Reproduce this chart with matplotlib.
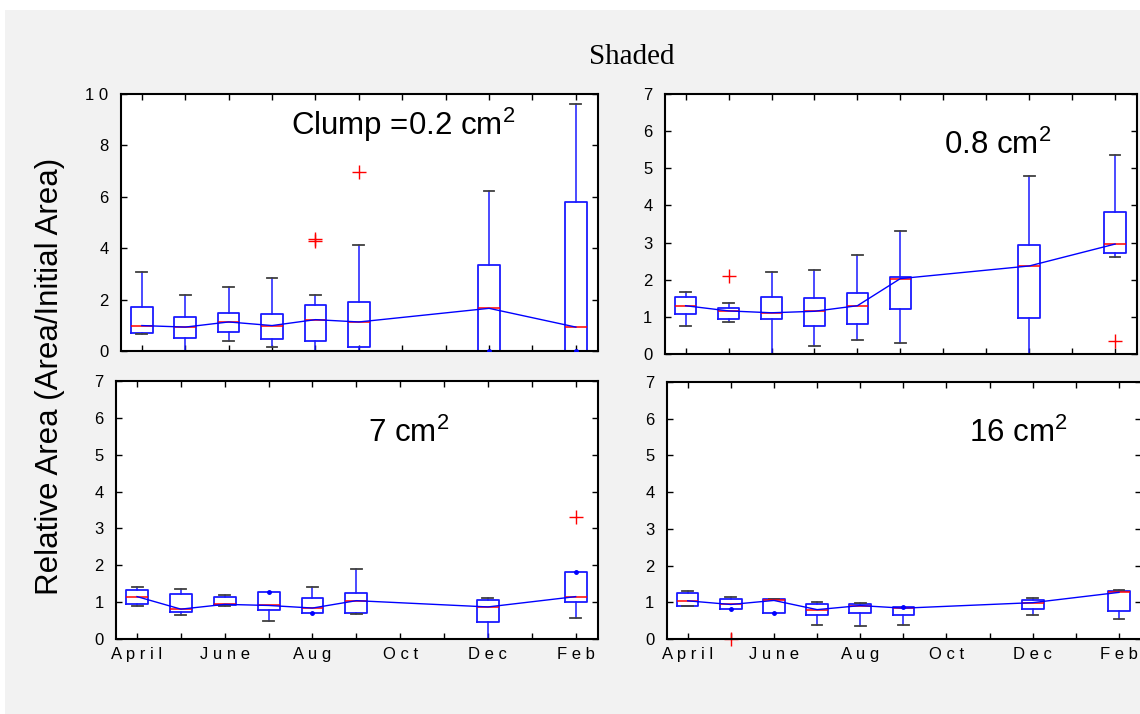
import matplotlib.pyplot as plt
from matplotlib.patches import Rectangle

plt.rcParams['font.family'] = ['Liberation Sans', 'DejaVu Sans']
plt.rcParams['mathtext.fontset'] = 'custom'
plt.rcParams['mathtext.rm'] = 'Liberation Sans'
plt.rcParams['mathtext.it'] = 'Liberation Sans'

# month ticks (Apr .. Feb), labels every second month
month_ticks = list(range(1, 12))
month_labels = ['A p r i l', '', 'J u n e', '', 'A u g', '', 'O c t', '', 'D e c', '', 'F e b']
box_pos = [1, 2, 3, 4, 5, 6, 9, 11]

# Clump = 0.2 cm2
lo_02 = [0.66, 0.0, 0.39, 0.17, 0.0, 0.0, 0.0, 0.0]
q1_02 = [0.71, 0.49, 0.73, 0.45, 0.39, 0.17, 0.0, 0.0]
med_02 = [0.99, 0.93, 1.13, 0.99, 1.22, 1.13, 1.66, 0.93]
q3_02 = [1.71, 1.34, 1.49, 1.43, 1.80, 1.89, 3.36, 5.80]
hi_02 = [3.07, 2.17, 2.48, 2.85, 2.17, 4.14, 6.21, 9.62]
out_02 = [[], [], [], [], [4.37, 4.27], [6.98], [], []]

# 0.8 cm2
lo_08 = [0.76, 0.85, 0.0, 0.22, 0.39, 0.29, 0.0, 2.62]
q1_08 = [1.07, 0.93, 0.93, 0.76, 0.80, 1.20, 0.98, 2.71]
med_08 = [1.30, 1.16, 1.11, 1.15, 1.30, 2.03, 2.37, 2.96]
q3_08 = [1.54, 1.24, 1.54, 1.52, 1.65, 2.08, 2.94, 3.81]
hi_08 = [1.68, 1.36, 2.21, 2.27, 2.66, 3.31, 4.78, 5.35]
out_08 = [[], [2.11], [], [], [], [], [], [0.35]]

# 7 cm2
lo_7 = [0.90, 0.64, 0.90, 0.49, 0.71, 0.68, 0.0, 0.57]
q1_7 = [0.96, 0.73, 0.92, 0.78, 0.71, 0.70, 0.46, 1.00]
med_7 = [1.15, 0.81, 0.94, 0.91, 0.84, 1.04, 0.87, 1.15]
q3_7 = [1.34, 1.21, 1.15, 1.27, 1.12, 1.25, 1.06, 1.81]
hi_7 = [1.40, 1.36, 1.19, 1.27, 1.40, 1.90, 1.12, 1.81]
out_7 = [[], [], [], [], [], [], [], [3.30]]

# 16 cm2
lo_16 = [0.89, 0.82, 0.72, 0.38, 0.35, 0.38, 0.66, 0.54]
q1_16 = [0.91, 0.82, 0.72, 0.66, 0.70, 0.66, 0.82, 0.77]
med_16 = [1.04, 0.94, 1.05, 0.80, 0.91, 0.84, 0.99, 1.27]
q3_16 = [1.24, 1.08, 1.08, 0.95, 0.95, 0.88, 1.05, 1.31]
hi_16 = [1.31, 1.14, 1.10, 1.02, 0.98, 0.88, 1.11, 1.34]
out_16 = [[], [0.0], [], [], [], [], [], []]

W, H = 1140, 714
fig = plt.figure(figsize=(W / 100, H / 100), dpi=100)
fig.add_artist(Rectangle((5 / W, 0), 1, 1 - 10 / H, transform=fig.transFigure,
                         facecolor='#f2f2f2', edgecolor='none', zorder=-10))


def px_axes(left, right, top, bottom):
    return fig.add_axes([left / W, 1 - bottom / H, (right - left) / W, (bottom - top) / H])


def draw_panel(ax, lo, q1, med, q3, hi, outl, ymax, yticks, ylabels, label, lx, ly, xlabels):
    stats = []
    for i in range(len(box_pos)):
        stats.append(dict(whislo=lo[i], q1=q1[i], med=med[i], q3=q3[i],
                          whishi=hi[i], fliers=outl[i]))
    parts = ax.bxp(stats, positions=box_pos, widths=0.5, capwidths=0.25,
                   boxprops=dict(color='#1a1aff', lw=1.3),
                   whiskerprops=dict(color='#1a1aff', lw=1.1),
                   capprops=dict(color='#404040', lw=1.3),
                   medianprops=dict(color='red', lw=1.1),
                   flierprops=dict(marker='+', markeredgecolor='red', markersize=10,
                                   markeredgewidth=1.0, linestyle='none'),
                   manage_ticks=False)
    for f in parts['fliers']:
        f.set_clip_on(False)
    # zero-length whiskers are shown as a small dot instead of a cap
    for i in range(len(box_pos)):
        for j, (w, q) in enumerate([(lo[i], q1[i]), (hi[i], q3[i])]):
            if w == q:
                parts['caps'][2 * i + j].set_visible(False)
                ax.plot(box_pos[i], w, 'o', color='blue', ms=2.5, zorder=4)
    ax.plot(box_pos, med, color='blue', lw=1.0, zorder=5)

    ax.set_xlim(0.52, 11.51)
    ax.set_ylim(0, ymax)
    ax.set_xticks(month_ticks)
    ax.set_xticklabels(xlabels)
    ax.set_yticks(yticks)
    ax.set_yticklabels(ylabels)
    ax.tick_params(direction='in', top=True, right=True, length=4, width=1,
                   labelsize=12, pad=9)
    ax.tick_params(axis='x', pad=6)
    for s in ax.spines.values():
        s.set_linewidth(1.5)
    ax.text(lx, ly, label, transform=ax.transAxes, fontsize=22.5,
            ha='left', va='baseline')


ax1 = px_axes(121, 598, 94, 351)
draw_panel(ax1, lo_02, q1_02, med_02, q3_02, hi_02, out_02, 10,
           [0, 2, 4, 6, 8, 10], ['0', '2', '4', '6', '8', '1 0'],
           r'Clump =0.2 cm$^{2}$', 0.356, 0.84, [''] * 11)

ax2 = px_axes(665, 1137, 94, 354)
draw_panel(ax2, lo_08, q1_08, med_08, q3_08, hi_08, out_08, 7,
           range(8), [str(v) for v in range(8)],
           r'0.8 cm$^{2}$', 0.591, 0.769, [''] * 11)

ax3 = px_axes(116, 598, 381, 639)
draw_panel(ax3, lo_7, q1_7, med_7, q3_7, hi_7, out_7, 7,
           range(8), [str(v) for v in range(8)],
           r'7 cm$^{2}$', 0.523, 0.765, month_labels)

ax4 = px_axes(667, 1141, 382, 639)
draw_panel(ax4, lo_16, q1_16, med_16, q3_16, hi_16, out_16, 7,
           range(8), [str(v) for v in range(8)],
           r'16 cm$^{2}$', 0.637, 0.768, month_labels)

fig.text(632 / W, 1 - 57 / H, 'Shaded', ha='center', va='center',
         family='Liberation Serif', fontsize=21)
fig.text(50 / W, 1 - 376 / H, 'Relative Area (Area/Initial Area)', rotation=90,
         ha='center', va='center', fontsize=22.5)

fig.savefig('out.png', dpi=100)
